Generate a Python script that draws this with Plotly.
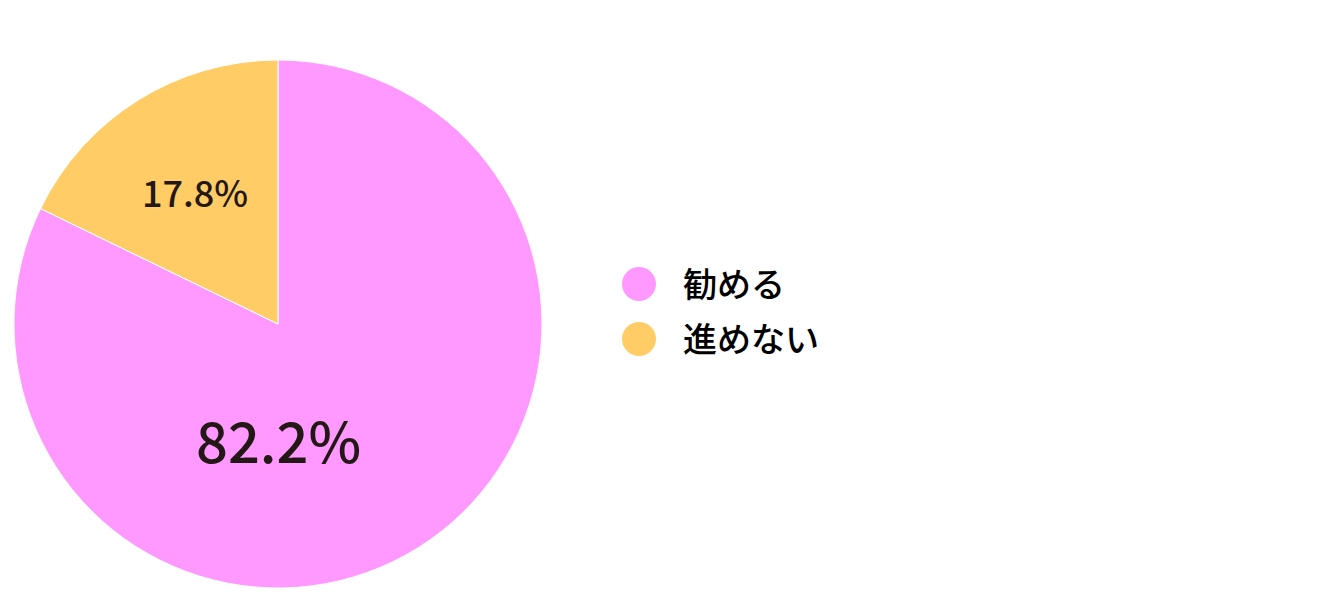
import plotly.graph_objects as go

labels = ["勧める", "進めない"]
values = [82.2, 17.8]
colors = ["#FF99FF", "#FFCC66"]
label_sizes = [56, 36]

W, H = 1317, 592
OFF = 8  # page body margin
cx, cy, r = 278 - OFF, 324 - OFF, 264

fig = go.Figure()
fig.add_trace(go.Pie(
    labels=labels, values=values, sort=False, direction="clockwise", rotation=0,
    marker=dict(colors=colors, line=dict(color="white", width=1)),
    textinfo="none", hoverinfo="label+percent", showlegend=False,
    domain=dict(x=[(cx - r) / W, (cx + r) / W], y=[1 - (cy + r) / H, 1 - (cy - r) / H]),
))

# value labels
label_pos = [(278 - OFF, 438 - OFF), (195 - OFF, 191 - OFF)]
for v, s, (px, py) in zip(values, label_sizes, label_pos):
    fig.add_annotation(x=px / W, y=1 - py / H, xref="paper", yref="paper",
                       text=f"{v:.1f}%", showarrow=False,
                       font=dict(size=s, color="#231815", family="Noto Sans CJK JP", weight=500),
                       xanchor="center", yanchor="middle")

# custom legend with circular markers
leg_x, leg_y0, leg_dy = 639 - OFF, 284 - OFF, 55
for i, (lab, col) in enumerate(zip(labels, colors)):
    y = leg_y0 + i * leg_dy
    fig.add_shape(type="circle", xref="paper", yref="paper",
                  xsizemode="pixel", ysizemode="pixel",
                  xanchor=leg_x / W, yanchor=1 - y / H,
                  x0=-17, x1=17, y0=-17, y1=17,
                  fillcolor=col, line=dict(width=0))
    fig.add_annotation(x=(leg_x + 42) / W, y=1 - (y - 2) / H, xref="paper", yref="paper",
                       text=lab, showarrow=False, xanchor="left", yanchor="middle",
                       font=dict(size=34, color="#000000", family="Noto Sans CJK JP", weight=500))

fig.update_layout(width=W, height=H, margin=dict(l=0, r=0, t=0, b=0),
                  paper_bgcolor="white", plot_bgcolor="white")
fig.write_html("out.html")
